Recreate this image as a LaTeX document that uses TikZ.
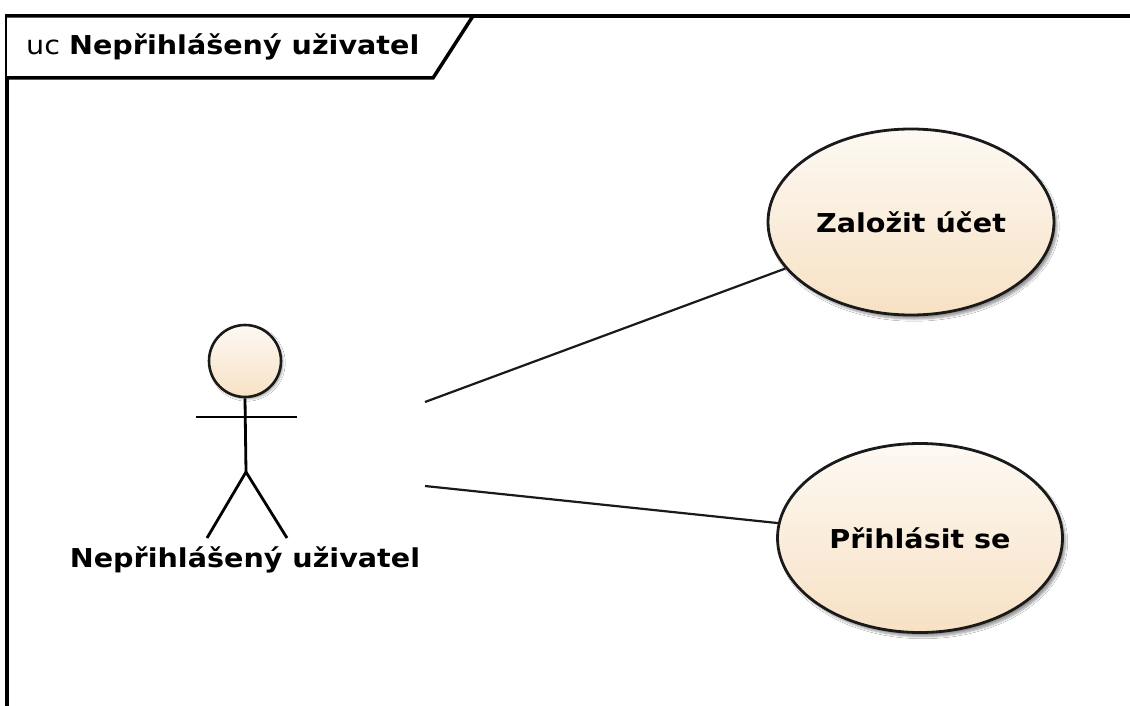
\documentclass[tikz,border=0pt]{standalone}
\usepackage{fontspec}
\setmainfont{DejaVu Sans}
\newfontfamily\umlfont[FakeStretch=1.1]{DejaVu Sans}
\usetikzlibrary{shapes.geometric,shadows.blur}
\definecolor{ucline}{HTML}{1A1A1A}
\definecolor{uctop}{HTML}{FDF9F3}
\definecolor{ucbot}{HTML}{F7E1C4}
\tikzset{
  usecase/.style={ellipse, draw=ucline, line width=2.8pt,
    top color=uctop, bottom color=ucbot, inner sep=0pt,
    font=\umlfont\bfseries\fontsize{26}{30}\selectfont,
    blur shadow={shadow xshift=3pt, shadow yshift=-4pt, shadow blur steps=6, shadow opacity=40}},
  assoc/.style={draw=ucline, line width=2.2pt},
  stick/.style={draw=black, line width=2.8pt},
  frameline/.style={draw=black, line width=3.5pt},
  label/.style={font=\umlfont\bfseries\fontsize{26}{30}\selectfont, inner sep=0pt}
}
\begin{document}
\begin{tikzpicture}[x=1pt, y=-1pt]
\useasboundingbox (0,0) rectangle (1130,706);
\fill[white] (0,0) rectangle (1130,706);

% diagram frame (open to the right and bottom) and its name tab
\draw[frameline] (7,706) -- (7,16) -- (1130,16);
\draw[frameline, fill=white] (7,16) -- (473,16) -- (433,78) -- (7,78);
\node[anchor=west, inner sep=0pt, font=\umlfont\fontsize{26}{30}\selectfont] (title) at (26,47)
  {uc \textbf{Nepřihlášený uživatel}};

% actor
\node[circle, draw=ucline, line width=2.6pt, minimum size=72pt, inner sep=0pt,
  top color=uctop, bottom color=ucbot,
  blur shadow={shadow xshift=2pt, shadow yshift=-2pt, shadow blur steps=5, shadow opacity=35}]
  (head) at (245,361) {};
\coordinate (hip) at (246,472);
\coordinate (larm) at (196,417);
\coordinate (rarm) at (297,417);
\coordinate (lfoot) at (207,538);
\coordinate (rfoot) at (287,538);
\draw[stick] (head.south) -- (hip);
\draw[stick] (larm) -- (rarm);
\draw[stick] (lfoot) -- (hip) -- (rfoot);
\node[label] (actorname) at (245,560) {Nepřihlášený uživatel};
\coordinate (actA) at (425,402);
\coordinate (actB) at (425,486);

% use cases
\node[usecase, minimum width=286pt, minimum height=186pt] (zalozit) at (911,222) {Založit účet};
\node[usecase, minimum width=285pt, minimum height=189pt] (prihlasit) at (920,538) {Přihlásit se};

% associations
\draw[assoc] (actA) -- (zalozit);
\draw[assoc] (actB) -- (prihlasit);
\end{tikzpicture}
\end{document}
